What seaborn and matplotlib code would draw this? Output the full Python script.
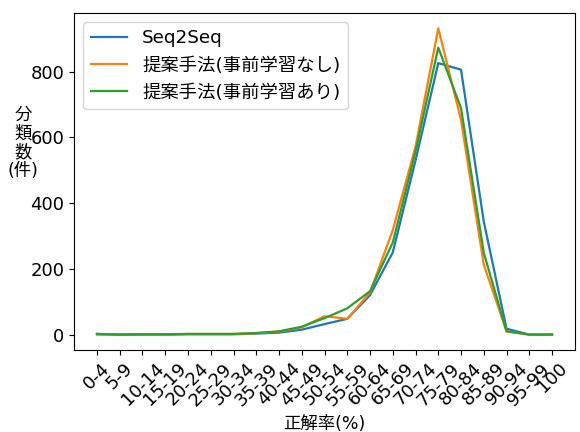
import pandas as pd
import matplotlib
matplotlib.use("Agg")
import matplotlib.pyplot as plt
import seaborn as sns

plt.rcParams['font.family'] = ['DejaVu Sans', 'Noto Sans CJK JP']

bins = ['0-4', '5-9', '10-14', '15-19', '20-24', '25-29', '30-34', '35-39',
        '40-44', '45-49', '50-54', '55-59', '60-64', '65-69', '70-74',
        '75-79', '80-84', '85-89', '90-94', '95-99', '100']

seq2seq = [2, 0, 0, 0, 1, 1, 1, 3, 6, 15, 32, 48, 120, 250, 530, 826, 806, 344, 18, 0, 0]
no_pretrain = [0, 0, 0, 0, 2, 2, 2, 4, 9, 22, 56, 48, 128, 318, 572, 932, 653, 213, 10, 0, 0]
pretrain = [2, 0, 1, 1, 2, 2, 2, 5, 10, 24, 50, 80, 132, 280, 557, 873, 689, 249, 10, 0, 0]

labels = ['Seq2Seq', '提案手法(事前学習なし)', '提案手法(事前学習あり)']

df = pd.DataFrame({
    'bin': bins * 3,
    'count': seq2seq + no_pretrain + pretrain,
    'model': [labels[0]] * len(bins) + [labels[1]] * len(bins) + [labels[2]] * len(bins),
})

fig, ax = plt.subplots(figsize=(5.8, 4.32), dpi=100)
sns.lineplot(data=df, x='bin', y='count', hue='model', palette=['#1f77b4', '#ff7f0e', '#2ca02c'],
             linewidth=1.6, ax=ax, sort=False)

ax.set_xlabel('正解率(%)', fontsize=12.5)
ax.set_ylabel('分\n類\n数\n(件)', rotation=0, fontsize=12.5, va='center', ha='center', linespacing=1.05)
ax.yaxis.set_label_coords(-0.102, 0.614)
ax.tick_params(axis='y', labelsize=13)
ax.tick_params(axis='x', labelsize=13, rotation=45)
ax.legend(title=None, fontsize=13.2, loc='upper left')

fig.subplots_adjust(left=0.128, right=0.991, top=0.970, bottom=0.190)
fig.savefig('out.png')
